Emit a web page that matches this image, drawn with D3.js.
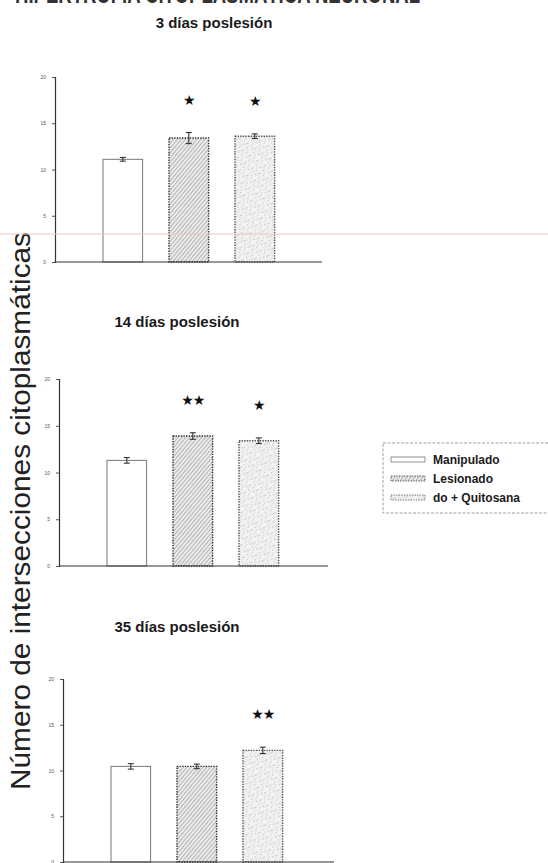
<!DOCTYPE html>
<html>
<head>
<meta charset="utf-8">
<script src="https://cdn.jsdelivr.net/npm/d3@7"></script>
<style>
  html, body { margin: 0; padding: 0; background: #fff; }
  svg { display: block; }
</style>
</head>
<body>
<svg id="fig" width="548" height="863"></svg>
<script>
// Groups and legend labels
const groups = ["Manipulado", "Lesionado", "Lesionado + Quitosana"];
const legendLabels = ["Manipulado", "Lesionado", "do + Quitosana"];

// Panel titles
const panelTitles = ["3 días poslesión", "14 días poslesión", "35 días poslesión"];

// Mean number of cytoplasmic intersections and standard error per group
const means3 = [11.1, 13.4, 13.6];
const errs3 = [0.2, 0.6, 0.25];
const means14 = [11.3, 13.9, 13.4];
const errs14 = [0.3, 0.35, 0.3];
const means35 = [10.45, 10.45, 12.2];
const errs35 = [0.3, 0.25, 0.35];

// Significance marks
const sig3 = ["", "★", "★"];
const sig14 = ["", "★★", "★"];
const sig35 = ["", "", "★★"];

// Y axis ticks
const yTicks = [0, 5, 10, 15, 20];

const yTitle = "Número de intersecciones citoplasmáticas";
const headTitle = "HIPERTROFIA CITOPLASMÁTICA NEURONAL";

const svg = d3.select("#fig");
const defs = svg.append("defs");

// Diagonal hatch for the lesioned group
const hatch = defs.append("pattern")
  .attr("id", "hatch").attr("patternUnits", "userSpaceOnUse")
  .attr("width", 3).attr("height", 3)
  .attr("patternTransform", "rotate(40)");
hatch.append("rect").attr("width", 3).attr("height", 3).attr("fill", "#ececec");
hatch.append("line").attr("x1", 0.5).attr("y1", 0).attr("x2", 0.5).attr("y2", 3)
  .attr("stroke", "#a4a4a4").attr("stroke-width", 0.8);

// Light speckled texture for the chitosan group
const speck = defs.append("pattern")
  .attr("id", "speck").attr("patternUnits", "userSpaceOnUse")
  .attr("width", 9).attr("height", 9)
  .attr("patternTransform", "rotate(35)");
speck.append("rect").attr("width", 9).attr("height", 9).attr("fill", "#f3f3f3");
[[1, 1], [5, 2], [3, 5], [7, 6], [0.5, 7.5], [6, 0.5]].forEach(([cx, cy]) => {
  speck.append("rect").attr("x", cx).attr("y", cy).attr("width", 1.3).attr("height", 1)
    .attr("fill", "#bdbdbd");
});
speck.append("line").attr("x1", 0).attr("y1", 4).attr("x2", 9).attr("y2", 4)
  .attr("stroke", "#d6d6d6").attr("stroke-width", 0.6);

const fills = ["#ffffff", "url(#hatch)", "url(#speck)"];
const strokes = ["#777", "#333", "#555"];
const dashes = [null, "1.4,1.2", "1.4,1.2"];

// Truncated heading at the very top
svg.append("text")
  .attr("x", 15).attr("y", 3)
  .attr("textLength", 405).attr("lengthAdjust", "spacingAndGlyphs")
  .attr("font-family", "Liberation Sans, Arial, sans-serif")
  .attr("font-weight", "bold").attr("font-size", 26)
  .attr("fill", "#333")
  .text(headTitle);

// Panel geometry: axis x position, pixel rows for 0 and 20, x-axis right end, title position
const panels = [
  { title: panelTitles[0], means: means3, errs: errs3, sig: sig3, ax: 55, y0: 262, y20: 77, right: 322, ty: 28, tx: 214 },
  { title: panelTitles[1], means: means14, errs: errs14, sig: sig14, ax: 59, y0: 566, y20: 379, right: 328, ty: 327, tx: 177 },
  { title: panelTitles[2], means: means35, errs: errs35, sig: sig35, ax: 63, y0: 862, y20: 679, right: 334, ty: 632, tx: 177 }
];

panels.forEach(p => {
  const g = svg.append("g");
  const y = d3.scaleLinear().domain([0, 20]).range([p.y0, p.y20]);
  const x = d3.scaleBand().domain(groups)
    .range([p.ax + 48, p.ax + 48 + 171.6])
    .paddingInner(0.4).paddingOuter(0);

  // Title
  g.append("text")
    .attr("x", p.tx).attr("y", p.ty)
    .attr("text-anchor", "middle")
    .attr("font-family", "Liberation Sans, Arial, sans-serif")
    .attr("font-weight", "bold").attr("font-size", 15)
    .attr("fill", "#1a1a1a")
    .text(p.title);

  // Bars
  g.selectAll("rect.bar").data(groups).join("rect")
    .attr("class", "bar")
    .attr("x", d => x(d))
    .attr("width", x.bandwidth())
    .attr("y", (d, i) => y(p.means[i]))
    .attr("height", (d, i) => y(0) - y(p.means[i]))
    .attr("fill", (d, i) => fills[i])
    .attr("stroke", (d, i) => strokes[i])
    .attr("stroke-width", (d, i) => i === 0 ? 1 : 1.4)
    .attr("stroke-dasharray", (d, i) => dashes[i]);

  // Error bars
  groups.forEach((d, i) => {
    const cx = x(d) + x.bandwidth() / 2;
    const hi = y(p.means[i] + p.errs[i]);
    const lo = y(p.means[i] - p.errs[i]);
    const eb = g.append("g").attr("stroke", "#333").attr("stroke-width", 1.1);
    eb.append("line").attr("x1", cx).attr("x2", cx).attr("y1", hi).attr("y2", lo);
    eb.append("line").attr("x1", cx - 3).attr("x2", cx + 3).attr("y1", hi).attr("y2", hi);
    eb.append("line").attr("x1", cx - 3).attr("x2", cx + 3).attr("y1", lo).attr("y2", lo);

    // Significance stars
    if (p.sig[i]) {
      g.append("text")
        .attr("x", cx).attr("y", hi - 28)
        .attr("text-anchor", "middle")
        .attr("font-family", "DejaVu Sans, sans-serif")
        .attr("font-size", 14)
        .attr("letter-spacing", -1)
        .attr("fill", "#111")
        .text(p.sig[i]);
    }
  });

  // Y axis
  const yAxis = d3.axisLeft(y).tickValues(yTicks).tickSize(3).tickPadding(6)
    .tickFormat(d3.format("d"));
  const ya = g.append("g").attr("transform", `translate(${p.ax},0)`).call(yAxis);
  ya.select(".domain").attr("stroke", "#333").attr("stroke-width", 1.2);
  ya.selectAll(".tick line").attr("stroke", "#555");
  ya.selectAll(".tick text")
    .attr("font-family", "Liberation Sans, Arial, sans-serif")
    .attr("font-size", 5).attr("fill", "#555");

  // X baseline
  g.append("line")
    .attr("x1", p.ax).attr("x2", p.right)
    .attr("y1", y(0)).attr("y2", y(0))
    .attr("stroke", "#333").attr("stroke-width", 1.2);
});

// Shared y-axis title
svg.append("text")
  .attr("transform", "translate(30,511) rotate(-90)")
  .attr("text-anchor", "middle")
  .attr("textLength", 558).attr("lengthAdjust", "spacingAndGlyphs")
  .attr("font-family", "Liberation Sans, Arial, sans-serif")
  .attr("font-size", 27)
  .attr("fill", "#222")
  .text(yTitle);

// Legend
const lg = svg.append("g");
lg.append("rect")
  .attr("x", 383).attr("y", 443).attr("width", 175).attr("height", 70)
  .attr("fill", "none").attr("stroke", "#888").attr("stroke-width", 0.8)
  .attr("stroke-dasharray", "3,1.5");
legendLabels.forEach((lab, i) => {
  const yy = 460 + i * 19;
  lg.append("rect")
    .attr("x", 391).attr("y", yy - 3).attr("width", 34).attr("height", 5)
    .attr("fill", fills[i]).attr("stroke", strokes[i])
    .attr("stroke-width", 0.8).attr("stroke-dasharray", dashes[i]);
  lg.append("text")
    .attr("x", 433).attr("y", yy + 4)
    .attr("font-family", "Liberation Sans, Arial, sans-serif")
    .attr("font-weight", "bold").attr("font-size", 12)
    .attr("fill", "#1a1a1a")
    .text(lab);
});

// Faint horizontal scanner streak
svg.append("line")
  .attr("x1", 0).attr("x2", 548).attr("y1", 234).attr("y2", 234)
  .attr("stroke", "#f2c4c4").attr("stroke-width", 1);
</script>
</body>
</html>
